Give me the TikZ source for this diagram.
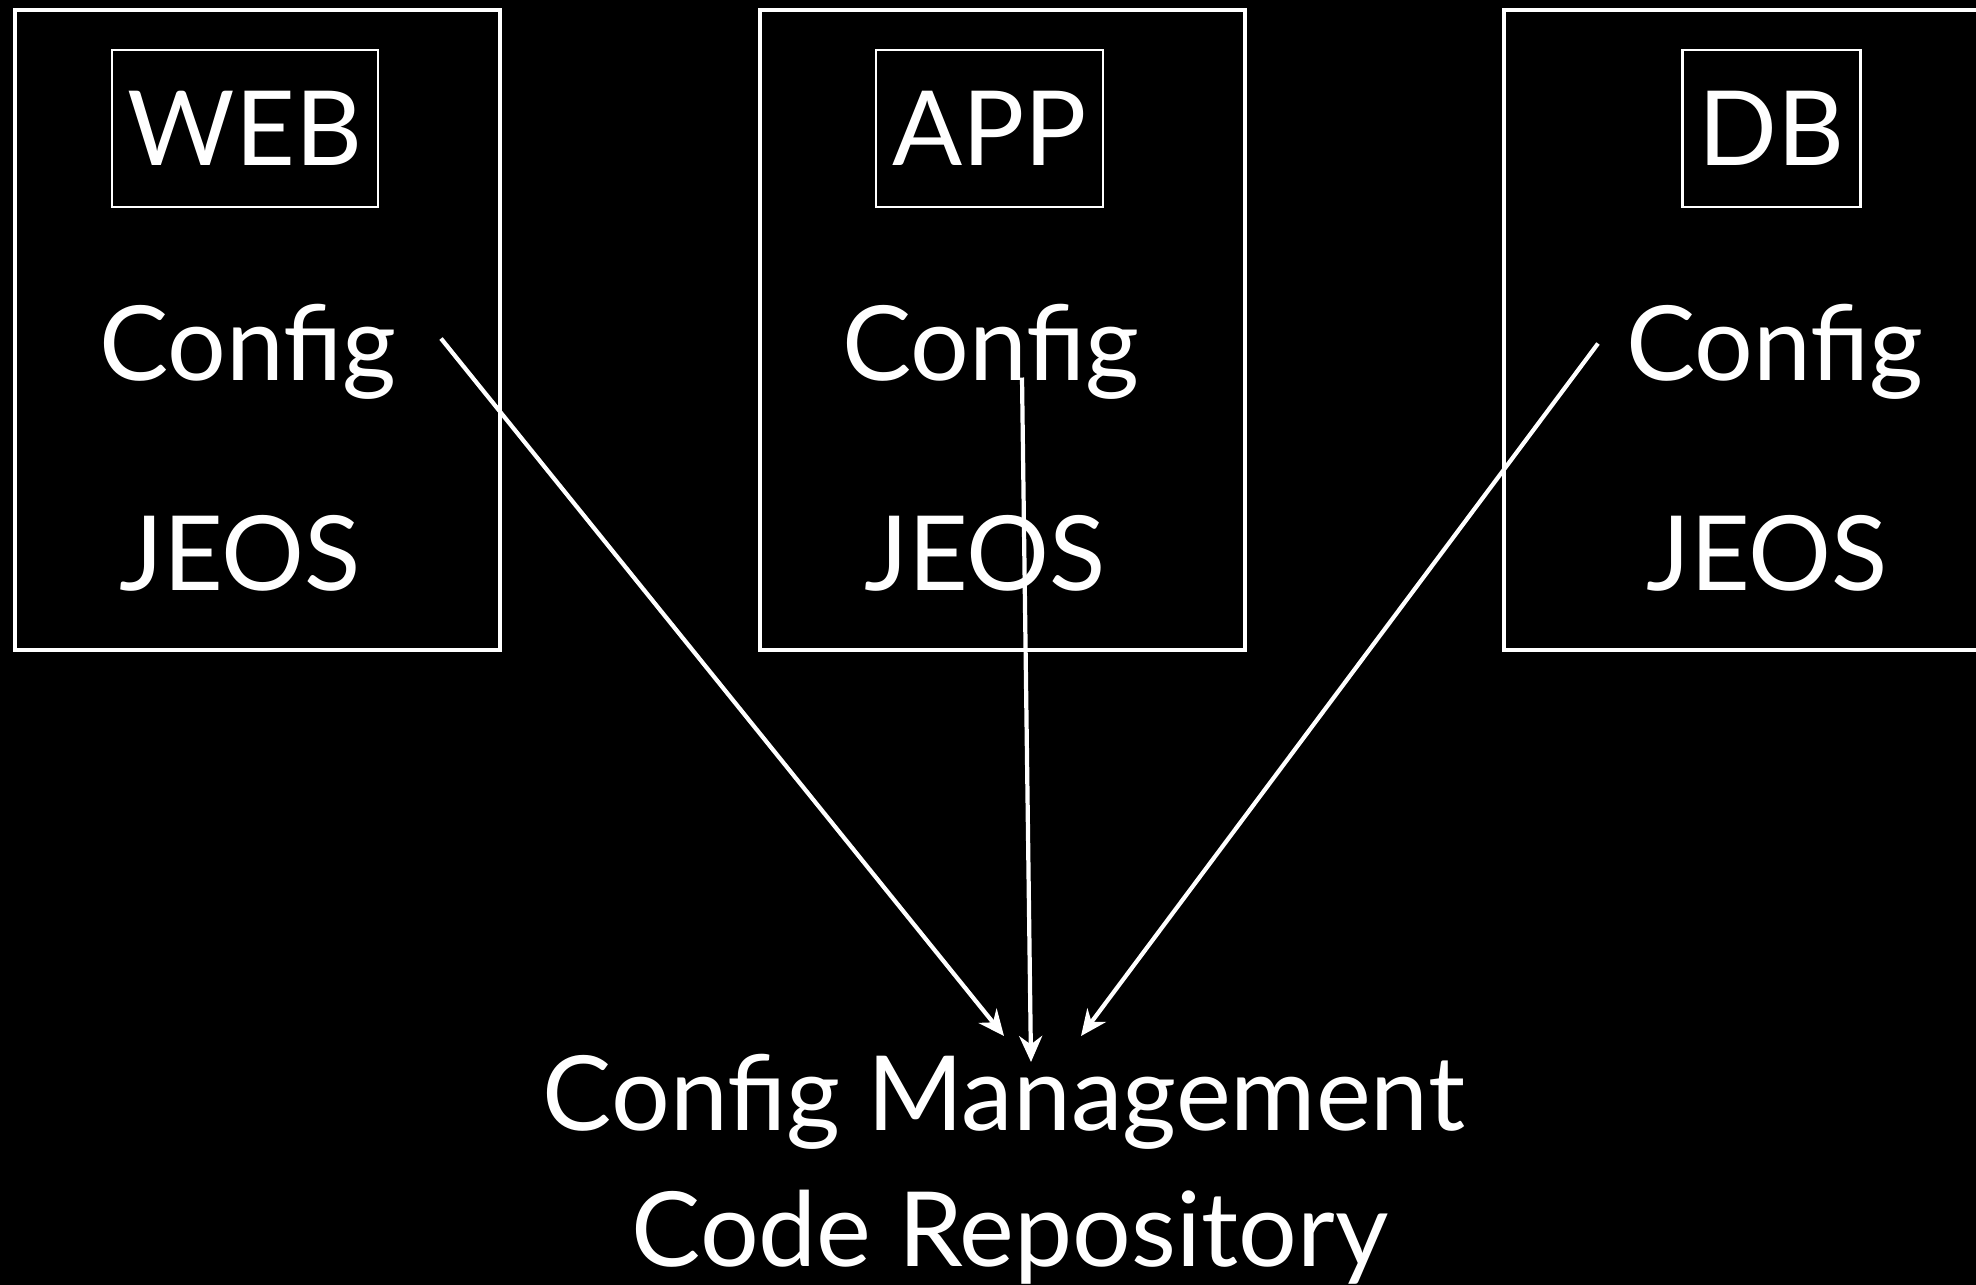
\documentclass[tikz,border=0pt]{standalone}
\usepackage{fontspec}
\setmainfont{Lato}
\usetikzlibrary{arrows.meta,positioning,calc}

\begin{document}
\begin{tikzpicture}[>={Stealth[length=2.6mm,width=2.3mm]},x=0.01cm,y=-0.01cm,
 big/.style={font=\fontsize{29.5}{36}\selectfont,text=white},
 txt/.style={big,inner sep=0pt,anchor=base},
 srv/.style={draw=white,line width=1.3pt,minimum width=4.85cm,minimum height=6.4cm,inner sep=0pt},
 role/.style={big,draw=white,line width=0.7pt,minimum height=1.57cm,inner xsep=0.16cm},
 arr/.style={->,draw=white,line width=1.2pt}]
\useasboundingbox (0,0) rectangle (1976,1284);
\fill[black] (-10,-10) rectangle (1990,1295);
% servers
\node[srv] (websrv) at (257.5,330) {};
\node[srv] (appsrv) at (1002.5,330) {};
\node[srv] (dbsrv) at (1746.5,330) {};
\node[role] (webrole) at (245,128.5) {WEB};
\node[role] (approle) at (989.5,128.5) {APP};
\node[role] (dbrole) at (1771.5,128.5) {DB};
\node[txt] (webcfg) at (248,380.5) {Config};
\node[txt] (appcfg) at (991,380.5) {Config};
\node[txt] (dbcfg) at (1775,380.5) {Config};
\node[txt] (webos) at (240,590) {JEOS};
\node[txt] (appos) at (985,590) {JEOS};
\node[txt] (dbos) at (1767,590) {JEOS};
% repository
\node[txt] (mgmt) at (1004,1130) {Config Management};
\node[txt] (repo) at (1010,1266) {Code Repository};
\coordinate (webtail) at ($(webcfg.base)+(193,-42)$);
\coordinate (apptail) at ($(appcfg.base)+(31,-3)$);
\coordinate (dbtail) at ($(dbcfg.base)+(-177,-37)$);
\coordinate (webhead) at ($(mgmt.base)+(0,-94)$);
\coordinate (apphead) at ($(mgmt.base)+(27,-68)$);
\coordinate (dbhead) at ($(mgmt.base)+(77,-94)$);
\draw[arr] (webtail) -- (webhead);
\draw[arr] (apptail) -- (apphead);
\draw[arr] (dbtail) -- (dbhead);
\end{tikzpicture}
\end{document}
